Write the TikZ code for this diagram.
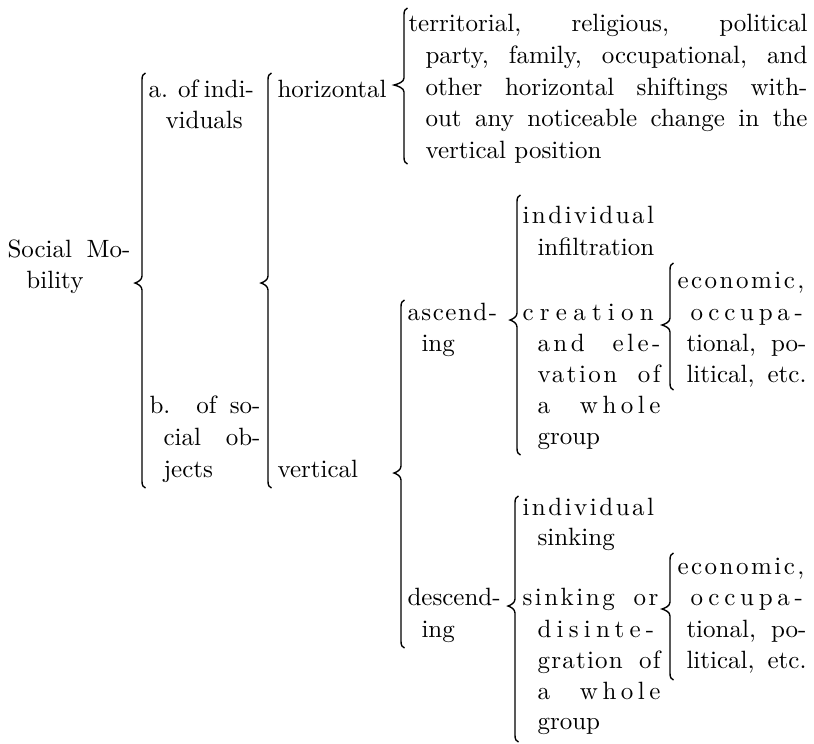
\documentclass[tikz,border=0pt]{standalone}
\usepackage{fontspec}
\usepackage{tikz}

\newfontfamily\lmls{lmroman10-regular.otf}
\newlength\unitpx
\setlength\unitpx{0.4pt}
% justified line and letter-spaced text
\newcommand\jl[2]{\makebox[#1\unitpx][s]{#2}}
\newcommand\lsp[2]{{\lmls\addfontfeature{LetterSpace=#1}#2}}
% brace opening to the right: [tip depth] stem x, top, bottom, tip
\newcommand\openbrace[5][7]{%
  \draw[brc] (#2+3.5,#3) .. controls (#2+1,#3+0.5) and (#2,#3+3) .. (#2,#3+7)
    -- (#2,#5-7) .. controls (#2,#5-3) and (#2-0.6*#1,#5-1) .. (#2-#1,#5)
    .. controls (#2-0.6*#1,#5+1) and (#2,#5+3) .. (#2,#5+7)
    -- (#2,#4-7) .. controls (#2,#4-3) and (#2+1,#4-0.5) .. (#2+3.5,#4);}

\tikzset{
  txt/.style={anchor=base west, inner sep=0pt},
  brc/.style={line width=0.55pt}
}

\begin{document}
\begin{tikzpicture}[x=0.4pt,y=-0.4pt]
    \useasboundingbox (0,0) rectangle (814,743);

    % Social Mobility
    \node[txt] (sm1) at (7,257) {\jl{123}{Social Mo-}};
    \node[txt] (sm2) at (26,288) {bility};
    \openbrace{142}{73}{488}{283}

    % of individuals / of social objects
    \node[txt] (ind1) at (148,97) {\jl{102}{a. of indi-}};
    \node[txt] (ind2) at (165,128) {viduals};
    \node[txt] (obj1) at (149,413) {\jl{111}{b. of so-}};
    \node[txt] (obj2) at (163,445) {\jl{97}{cial ob-}};
    \node[txt] (obj3) at (163,477) {jects};
    \openbrace{268}{73}{488}{283}

    % horizontal
    \node[txt] (hor) at (277,97) {horizontal};
    \openbrace[10]{404}{8}{164}{85}
    \node[txt] (ter1) at (408,31) {\jl{399}{territorial, religious, political}};
    \node[txt] (ter2) at (425,63) {\jl{382}{party, family, occupational, and}};
    \node[txt] (ter3) at (425,95) {\jl{382}{other horizontal shiftings with-}};
    \node[txt] (ter4) at (425,126) {\jl{382}{out any noticeable change in the}};
    \node[txt] (ter5) at (425,158) {vertical position};

    % vertical
    \node[txt] (ver) at (277,477) {vertical};
    \openbrace{401}{300}{648}{473}

    % ascending
    \node[txt] (asc1) at (407,320) {\lsp{6}{ascend-}};
    \node[txt] (asc2) at (421,351) {ing};
    \openbrace{517}{195}{455}{320}
    \node[txt] (ai1) at (522,223) {\lsp{10}{individual}};
    \node[txt] (ai2) at (537,255) {infiltration};
    \node[txt] (ai3) at (522,320) {\lsp{25}{creation}};
    \node[txt] (ai4) at (537,351) {\jl{123}{\lsp{14}{and ele-}}};
    \node[txt] (ai5) at (537,382) {\jl{123}{\lsp{10}{vation of}}};
    \node[txt] (ai6) at (537,413) {\jl{123}{\lsp{18}{a whole}}};
    \node[txt] (ai7) at (537,444) {group};
    \openbrace[8]{670}{263}{390}{325}
    \node[txt] (ae1) at (677,288) {\lsp{10}{economic,}};
    \node[txt] (ae2) at (690,320) {\lsp{19}{occupa-}};
    \node[txt] (ae3) at (686,351) {\jl{120}{tional, po-}};
    \node[txt] (ae4) at (686,382) {\jl{120}{litical, etc.}};

    % descending
    \node[txt] (des1) at (407,605) {descend-};
    \node[txt] (des2) at (421,637) {ing};
    \openbrace{515}{496}{742}{606}
    \node[txt] (di1) at (522,515) {\lsp{10}{individual}};
    \node[txt] (di2) at (537,545) {sinking};
    \node[txt] (di3) at (522,605) {\jl{136}{\lsp{10}{sinking or}}};
    \node[txt] (di4) at (537,637) {\lsp{21}{disinte-}};
    \node[txt] (di5) at (537,668) {\jl{123}{\lsp{5}{gration of}}};
    \node[txt] (di6) at (537,699) {\jl{123}{\lsp{18}{a whole}}};
    \node[txt] (di7) at (537,729) {group};
    \openbrace[8]{670}{553}{680}{609}
    \node[txt] (de1) at (677,574) {\lsp{10}{economic,}};
    \node[txt] (de2) at (690,605) {\lsp{19}{occupa-}};
    \node[txt] (de3) at (686,637) {\jl{120}{tional, po-}};
    \node[txt] (de4) at (686,668) {\jl{120}{litical, etc.}};
\end{tikzpicture}
\end{document}
